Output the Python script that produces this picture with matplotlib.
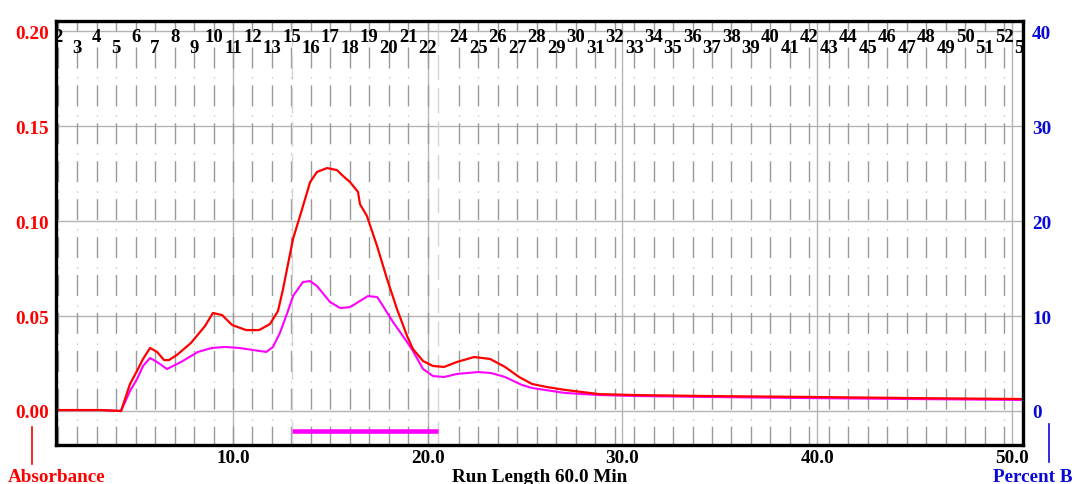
import matplotlib
matplotlib.use("Agg")
import matplotlib.pyplot as plt
from matplotlib.lines import Line2D

plt.rcParams['font.family'] = ['Liberation Serif', 'DejaVu Serif']
plt.rcParams['font.weight'] = 'bold'

# ---------------- data ----------------
red_time = [0.91, 3.17, 4.25, 4.71, 5.07, 5.38, 5.74, 6.10, 6.46, 6.71,
            7.12, 7.84, 8.56, 8.97, 9.44, 9.95, 10.67, 11.34, 11.90, 12.31,
            12.57, 13.08, 13.44, 13.96, 14.31, 14.83, 15.34, 15.65, 16.01, 16.42,
            16.52, 16.88, 17.40, 17.91, 18.42, 18.94, 19.24, 19.76, 20.27, 20.84,
            21.50, 22.38, 23.20, 23.97, 24.69, 25.36, 26.13, 27.05, 28.80, 30.60,
            34.19, 39.53, 44.87, 50.57]
red_abs = [0.0005, 0.0005, 0.0, 0.0142, 0.0211, 0.0274, 0.0332, 0.0311, 0.0268, 0.0268,
           0.0295, 0.0358, 0.0447, 0.0516, 0.0505, 0.0453, 0.0426, 0.0426, 0.0458, 0.0526,
           0.0642, 0.0905, 0.1026, 0.1205, 0.1258, 0.1279, 0.1268, 0.1237, 0.1205, 0.1153,
           0.1089, 0.1026, 0.0868, 0.0695, 0.0537, 0.0395, 0.0326, 0.0263, 0.0237, 0.0232,
           0.0258, 0.0284, 0.0274, 0.0232, 0.0179, 0.0142, 0.0126, 0.0111, 0.0089, 0.0084,
           0.0079, 0.0074, 0.0068, 0.0063]

mag_time = [0.91, 3.17, 4.25, 4.71, 5.07, 5.38, 5.74, 6.10, 6.61, 7.33,
            8.20, 8.92, 9.59, 10.31, 11.03, 11.71, 12.05, 12.41, 12.82, 13.08,
            13.59, 13.96, 14.31, 14.98, 15.50, 16.01, 16.52, 16.93, 17.40, 17.70,
            18.22, 18.94, 19.24, 19.76, 20.27, 20.84, 21.50, 22.58, 23.25, 23.97,
            24.84, 25.36, 27.05, 28.80, 30.60, 34.19, 39.53, 44.87, 50.57]
mag_abs = [0.0005, 0.0005, 0.0, 0.0105, 0.0168, 0.0237, 0.0279, 0.0258, 0.0221, 0.0258,
           0.0311, 0.0332, 0.0337, 0.0332, 0.0321, 0.0311, 0.0337, 0.0411, 0.0526, 0.0605,
           0.0679, 0.0684, 0.0658, 0.0574, 0.0542, 0.0547, 0.0579, 0.0605, 0.0600, 0.0553,
           0.0468, 0.0363, 0.0316, 0.0221, 0.0184, 0.0179, 0.0195, 0.0205, 0.0200, 0.0179,
           0.0137, 0.0121, 0.0095, 0.0084, 0.0079, 0.0074, 0.0068, 0.0063, 0.0058]

frac_numbers = [2, 3, 4, 5, 6, 7, 8, 9, 10, 11, 12, 13,
                15, 16, 17, 18, 19, 20, 21, 22,
                24, 25, 26, 27, 28, 29, 30, 31, 32, 33, 34, 35, 36, 37, 38, 39,
                40, 41, 42, 43, 44, 45, 46, 47, 48, 49, 50, 51, 52, 53]
frac_times = [1.0, 2.0, 3.0, 4.0, 5.0, 6.0, 7.0, 8.0, 9.0, 10.0, 11.0, 12.0,
              13.0, 14.0, 15.0, 16.0, 17.0, 18.0, 19.0, 20.0,
              21.6, 22.6, 23.6, 24.6, 25.6, 26.6, 27.6, 28.6, 29.6, 30.6, 31.6, 32.6,
              33.6, 34.6, 35.6, 36.6, 37.6, 38.6, 39.6, 40.6, 41.6, 42.6, 43.6, 44.6,
              45.6, 46.6, 47.6, 48.6, 49.6, 50.6]

pool_start, pool_end = 13.03, 20.53
x_ticks = [10, 20, 30, 40, 50]
x_tick_labels = ['10.0', '20.0', '30.0', '40.0', '50.0']
abs_ticks = [0.0, 0.05, 0.10, 0.15, 0.20]
abs_tick_labels = ['0.00', '0.05', '0.10', '0.15', '0.20']
pctb_ticks = [0, 10, 20, 30, 40]
pctb_tick_labels = ['0', '10', '20', '30', '40']

# ---------------- figure ----------------
W, H = 1074, 485
fig = plt.figure(figsize=(W / 100, H / 100), dpi=100)
fig.patch.set_facecolor('white')
L, R, T, B = 56, 1023, 22, 446
ax = fig.add_axes([L / W, 1 - B / H, (R - L) / W, (B - T) / H])
xmin, xmax = 0.91, 50.57
ymin, ymax = -0.0179, 0.2053
ax.set_xlim(xmin, xmax)
ax.set_ylim(ymin, ymax)

RED = '#ff0000'
MAG = '#ff00ff'
BLUE = '#0a0ad8'
GRID = '#b4b4b4'

for v in x_ticks:
    ax.axvline(v, color=GRID, lw=1.0, zorder=1)
for v in abs_ticks:
    ax.axhline(v, color=GRID, lw=1.0, zorder=1)

# fraction markers
ax.vlines(frac_times, 0.1916, ymin - 0.01, colors='#9a9a9a', lw=1.0,
          linestyles=[(0, (15.1, 12.2))], zorder=1)
ax.vlines(frac_times, 0.1916, ymin - 0.01, colors='#cfcfcf', lw=1.0,
          linestyles=[(6.2, (1.2, 26.2))], zorder=1)
ax.vlines(frac_times, 0.2, ymax + 0.01, colors='#9a9a9a', lw=1.0, zorder=1)
ax.vlines([pool_start, pool_end], ymax, ymin, colors='#d4d4d4', lw=1.0,
          linestyles=[(0, (18, 6))], zorder=1)

for i, (n, t) in enumerate(zip(frac_numbers, frac_times)):
    y = 0.1947 if i % 2 == 0 else 0.1889
    ax.text(t, y, str(n), ha='center', va='baseline', fontsize=13.5,
            fontweight='bold', color='black', clip_on=True, zorder=5)

# traces
ax.plot(mag_time, mag_abs, color=MAG, lw=1.5, zorder=3)
ax.plot(red_time, red_abs, color=RED, lw=1.6, zorder=4)

# pooled fraction bar
ax.hlines(-0.0105, pool_start, pool_end, colors=MAG, lw=3.3, zorder=3)

# axes styling
ax.set_xticks(x_ticks)
ax.set_xticklabels(x_tick_labels, fontsize=13.8, fontweight='bold')
ax.set_yticks(abs_ticks)
ax.set_yticklabels(abs_tick_labels, fontsize=13.8, fontweight='bold', color=RED)
ax.tick_params(axis='x', length=0, pad=3)
ax.tick_params(axis='y', length=0, pad=5)
for s in ax.spines.values():
    s.set_linewidth(2.4)
    s.set_color('black')
    s.set_zorder(6)

ax2 = ax.twinx()
ax2.set_ylim(ymin * 200, ymax * 200)
ax2.set_yticks(pctb_ticks)
ax2.set_yticklabels(pctb_tick_labels, fontsize=13.8, fontweight='bold', color=BLUE)
ax2.tick_params(axis='y', length=0, pad=6.5)
for s in ax2.spines.values():
    s.set_visible(False)

# bottom captions
fig.text(57 / W, 1 - 482 / H, 'Absorbance', ha='center', va='baseline',
         fontsize=13.8, fontweight='bold', color=RED)
fig.text(1033 / W, 1 - 482 / H, 'Percent B', ha='center', va='baseline',
         fontsize=13.8, fontweight='bold', color=BLUE)
fig.text(540 / W, 1 - 482 / H, 'Run Length 60.0 Min', ha='center', va='baseline',
         fontsize=13.8, fontweight='bold', color='black')
fig.add_artist(Line2D([32 / W, 32 / W], [1 - 428 / H, 1 - 465 / H], color=RED, lw=1.2))
fig.add_artist(Line2D([1049 / W, 1049 / W], [1 - 425 / H, 1 - 463 / H], color=BLUE, lw=1.2))

fig.savefig('out.png', dpi=100, facecolor='white')
